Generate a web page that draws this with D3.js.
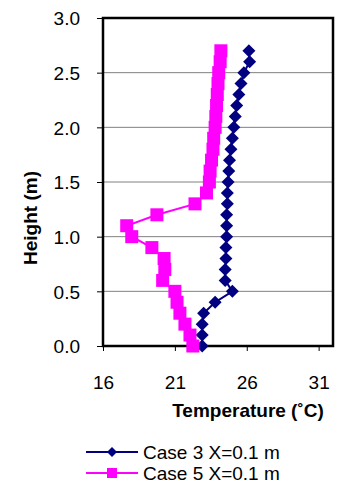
<!DOCTYPE html>
<html>
<head>
<meta charset="utf-8">
<script src="https://cdn.jsdelivr.net/npm/d3@7"></script>
<style>
  html, body { margin: 0; padding: 0; background: #fff; }
  svg { display: block; font-family: "Liberation Sans", Arial, sans-serif; }
</style>
</head>
<body>
<svg id="chart" width="339" height="484"></svg>
<script>
// ---- data ----
const heights = [0.0, 0.1, 0.2, 0.3, 0.4, 0.5, 0.6, 0.7, 0.8, 0.9, 1.0, 1.1, 1.2, 1.3,
                 1.4, 1.5, 1.6, 1.7, 1.8, 1.9, 2.0, 2.1, 2.2, 2.3, 2.4, 2.5, 2.6, 2.7];
const case3Temps = [22.9, 22.9, 22.9, 23.0, 23.8, 25.0, 24.5, 24.5, 24.55, 24.55, 24.6, 24.6, 24.6, 24.65,
                    24.65, 24.7, 24.75, 24.8, 24.9, 25.0, 25.1, 25.2, 25.3, 25.45, 25.6, 25.8, 26.2, 26.15];
const case5Temps = [22.25, 22.05, 21.7, 21.35, 21.15, 21.0, 20.15, 20.3, 20.25, 19.4, 18.0, 17.65, 19.75, 22.4,
                    23.2, 23.4, 23.45, 23.55, 23.65, 23.7, 23.8, 23.85, 23.9, 23.95, 24.0, 24.05, 24.15, 24.2];
const seriesNames = ["Case 3 X=0.1 m", "Case 5 X=0.1 m"];
const xTicks = [16, 21, 26, 31];
const yTicks = [0.0, 0.5, 1.0, 1.5, 2.0, 2.5, 3.0];
const xTitle = "Temperature (\u02DAC)";
const yTitle = "Height (m)";

// ---- layout ----
const svg = d3.select("#chart");
const L = 103, R = 333, T = 18, B = 346;
const x = d3.scaleLinear().domain([16, 32]).range([L, R]);
const y = d3.scaleLinear().domain([0, 3]).range([B, T]);
const FS = 19;

// gridlines
svg.append("g").selectAll("line").data(yTicks.filter(v => v > 0 && v < 3)).join("line")
  .attr("x1", L).attr("x2", R)
  .attr("y1", d => y(d)).attr("y2", d => y(d))
  .attr("stroke", "#808080").attr("stroke-width", 1);

// axes
const yAxis = d3.axisLeft(y).tickValues(yTicks).tickSize(6).tickFormat(d3.format(".1f")).tickPadding(17);
const gy = svg.append("g").attr("transform", `translate(${L},0)`).call(yAxis);
gy.select(".domain").remove();
gy.selectAll(".tick line").attr("stroke", "#000").attr("stroke-width", 1);
gy.selectAll(".tick text").attr("font-size", FS).attr("fill", "#000")
  .attr("font-family", "Liberation Sans, Arial, sans-serif").attr("dy", "0.36em");

const xAxis = d3.axisBottom(x).tickValues(xTicks).tickSize(5).tickFormat(d3.format("d")).tickPadding(24);
const gx = svg.append("g").attr("transform", `translate(0,${B})`).call(xAxis);
gx.select(".domain").remove();
gx.selectAll(".tick line").attr("stroke", "#000").attr("stroke-width", 1);
gx.selectAll(".tick text").attr("font-size", FS).attr("fill", "#000")
  .attr("font-family", "Liberation Sans, Arial, sans-serif").attr("dy", "0");
gx.selectAll(".tick text").attr("y", 389 - B);

// frame
svg.append("rect").attr("x", L).attr("y", T).attr("width", R - L).attr("height", B - T)
  .attr("fill", "none").attr("stroke", "#000").attr("stroke-width", 2.5);

// series
const diamond = s => `M0,${-s}L${s},0L0,${s}L${-s},0Z`;
function drawSeries(temps, color, marker) {
  const pts = heights.map((h, i) => [temps[i], h]);
  const line = d3.line().x(d => x(d[0])).y(d => y(d[1]));
  svg.append("path").datum(pts).attr("d", line)
    .attr("fill", "none").attr("stroke", color).attr("stroke-width", 2);
  const g = svg.append("g");
  if (marker === "diamond") {
    g.selectAll("path").data(pts).join("path")
      .attr("transform", d => `translate(${x(d[0])},${y(d[1])})`)
      .attr("d", diamond(6.5)).attr("fill", color);
  } else {
    g.selectAll("rect").data(pts).join("rect")
      .attr("x", d => x(d[0]) - 6.5).attr("y", d => y(d[1]) - 6.5)
      .attr("width", 13).attr("height", 13).attr("fill", color);
  }
}
drawSeries(case3Temps, "#000080", "diamond");
drawSeries(case5Temps, "#FF00FF", "square");

// axis titles
svg.append("text").attr("x", 248).attr("y", 417).attr("text-anchor", "middle")
  .attr("font-size", FS).attr("font-weight", "bold").text(xTitle);
svg.append("text").attr("transform", "translate(37,218) rotate(-90)").attr("text-anchor", "middle")
  .attr("font-size", FS).attr("font-weight", "bold").text(yTitle);

// legend
const legend = [
  { name: seriesNames[0], color: "#000080", marker: "diamond", cy: 452 },
  { name: seriesNames[1], color: "#FF00FF", marker: "square", cy: 473 }
];
legend.forEach(l => {
  svg.append("line").attr("x1", 86).attr("x2", 138).attr("y1", l.cy).attr("y2", l.cy)
    .attr("stroke", l.color).attr("stroke-width", 2);
  if (l.marker === "diamond") {
    svg.append("path").attr("transform", `translate(112,${l.cy})`).attr("d", diamond(5)).attr("fill", l.color);
  } else {
    svg.append("rect").attr("x", 112 - 5).attr("y", l.cy - 5).attr("width", 10).attr("height", 10).attr("fill", l.color);
  }
  svg.append("text").attr("x", 143).attr("y", l.cy + 7).attr("font-size", FS).attr("fill", "#000").text(l.name);
});
</script>
</body>
</html>
